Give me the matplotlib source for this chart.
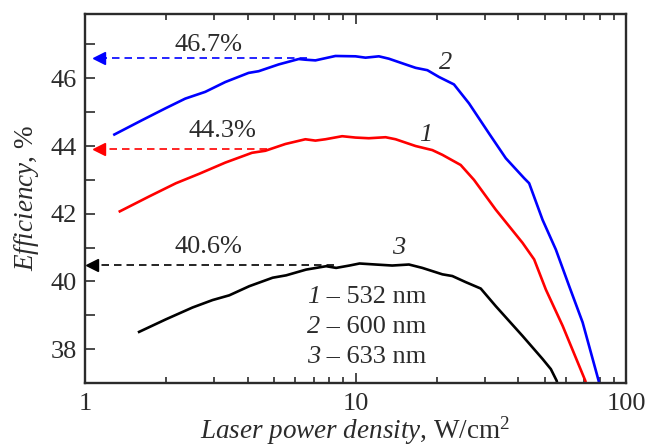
import matplotlib
matplotlib.use("Agg")
import matplotlib.pyplot as plt
from matplotlib.ticker import MultipleLocator, FixedLocator, NullFormatter

plt.rcParams['font.family'] = ['Liberation Serif', 'DejaVu Serif']
plt.rcParams['mathtext.fontset'] = 'custom'
plt.rcParams['mathtext.rm'] = 'Liberation Serif'
plt.rcParams['mathtext.it'] = 'Liberation Serif:italic'

INK = '#2b2b2b'
FS = 19

# curve 1 - 532 nm
x1 = [1.345, 1.726, 2.167, 2.644, 3.30, 4.143, 4.642, 5.506, 6.528, 7.109, 7.743,
      8.928, 10.0, 11.2, 12.92, 14.07, 16.68, 19.23, 20.95, 24.48, 27.42, 33.0, 41.45,
      45.76, 50.55, 58.3, 70.7, 72.0]
y1 = [42.07, 42.51, 42.90, 43.18, 43.51, 43.80, 43.86, 44.06, 44.20, 44.16, 44.20,
      44.29, 44.25, 44.23, 44.26, 44.20, 44.00, 43.88, 43.74, 43.44, 43.00, 42.12, 41.14,
      40.65, 39.76, 38.69, 37.07, 36.8]

# curve 2 - 600 nm
x2 = [1.284, 1.622, 1.979, 2.347, 2.783, 3.30, 4.025, 4.385, 5.198, 6.166, 6.528, 7.109,
      8.43, 10.0, 10.89, 12.2, 13.28, 15.32, 16.68, 18.44, 20.35, 23.12, 26.28, 31.17,
      35.94, 42.02, 43.85, 49.15, 55.05, 61.66, 69.13, 79.2, 80.5]
y2 = [44.34, 44.76, 45.11, 45.40, 45.60, 45.89, 46.16, 46.21, 46.41, 46.57, 46.55, 46.53,
      46.66, 46.65, 46.61, 46.65, 46.58, 46.41, 46.31, 46.24, 46.04, 45.82, 45.26, 44.37,
      43.64, 43.05, 42.90, 41.82, 40.94, 39.86, 38.79, 37.07, 36.8]

# curve 3 - 633 nm
x3 = [1.585, 1.99, 2.497, 2.962, 3.415, 4.05, 4.94, 5.54, 6.57, 7.79, 8.48, 9.50, 10.35,
      11.86, 13.67, 15.76, 17.66, 20.95, 22.8, 25.55, 29.04, 33.0, 41.45, 49.15, 52.75,
      55.4, 56.5]
y3 = [38.51, 38.88, 39.23, 39.45, 39.59, 39.86, 40.11, 40.18, 40.35, 40.45, 40.40, 40.47,
      40.53, 40.50, 40.47, 40.50, 40.40, 40.21, 40.16, 39.98, 39.79, 39.27, 38.39, 37.71,
      37.41, 37.07, 36.8]

colors = ['red', 'blue', 'black']
curve_ids = ['1', '2', '3']
wavelengths = ['532 nm', '600 nm', '633 nm']

# peak arrows: level, where the dashed line leaves the curve, where the tip is
arrow_y = [43.90, 46.61, 40.48]
arrow_from = [4.71, 6.63, 8.36]
arrow_tip = [1.127, 1.127, 1.059]
peak_labels = ['44.3%', '46.7%', '40.6%']

fig, ax = plt.subplots(figsize=(6.45, 4.48), dpi=100)
fig.subplots_adjust(left=85/645, right=626/645, bottom=1-383/448, top=1-14/448)

for xs, ys, c in zip([x1, x2, x3], [y1, y2, y3], colors):
    ax.plot(xs, ys, color=c, lw=1.9, solid_joinstyle='round')

for yv, x0, xt, c in zip(arrow_y, arrow_from, arrow_tip, colors):
    ax.plot([x0, xt], [yv, yv], color=c, lw=1.2, dashes=(4.5, 3))
    ax.plot([xt], [yv], marker='<', color=c, ms=8, mec=c, ls='none')

ax.text(3.217, 44.44, peak_labels[0], ha='center', va='center', fontsize=FS, color=INK)
ax.text(2.855, 46.97, peak_labels[1], ha='center', va='center', fontsize=FS, color=INK)
ax.text(2.855, 41.03, peak_labels[2], ha='center', va='center', fontsize=FS, color=INK)

ax.text(18.2, 44.33, curve_ids[0], style='italic', ha='center', va='center', fontsize=FS, color=INK)
ax.text(21.5, 46.45, curve_ids[1], style='italic', ha='center', va='center', fontsize=FS, color=INK)
ax.text(14.4, 41.0, curve_ids[2], style='italic', ha='center', va='center', fontsize=FS, color=INK)

# legend written as text: italic number, then the wavelength
for i, (cid, wl) in enumerate(zip(curve_ids, wavelengths)):
    yy = 39.53 - 0.885 * i
    ax.text(7.40, yy, cid, style='italic', ha='right', va='center', fontsize=FS, color=INK)
    ax.text(7.40, yy, ' – ' + wl, ha='left', va='center', fontsize=FS, color=INK)

ax.set_xscale('log')
ax.set_xlim(1, 100)
ax.set_ylim(37, 47.9)
ax.xaxis.set_major_locator(FixedLocator([1, 10, 100]))
ax.set_xticklabels(['1', '10', '100'])
ax.xaxis.set_minor_locator(FixedLocator([2, 3, 4, 5, 6, 7, 8, 9, 20, 30, 40, 50, 60, 70, 80, 90]))
ax.xaxis.set_minor_formatter(NullFormatter())
ax.yaxis.set_major_locator(MultipleLocator(2))
ax.yaxis.set_minor_locator(MultipleLocator(1))

ax.tick_params(axis='x', which='both', direction='in', top=True, bottom=True, colors=INK,
               labelsize=FS, pad=7)
ax.tick_params(axis='x', which='major', length=7, width=1.2)
ax.tick_params(axis='x', which='minor', length=4.5, width=1.2)
ax.tick_params(axis='y', which='both', direction='in', left=True, right=False, colors=INK,
               labelsize=FS, length=7, width=1.2, pad=6)

for s in ax.spines.values():
    s.set_linewidth(1.7)
    s.set_color(INK)

ax.set_xlabel(r'$\mathit{Laser\ power\ density}$, W/cm$^2$', fontsize=19.5, color=INK, labelpad=0)
ax.set_ylabel(r'$\mathit{Efficiency}$, %', fontsize=19.5, color=INK, labelpad=7)

fig.savefig('out.png', dpi=100)
